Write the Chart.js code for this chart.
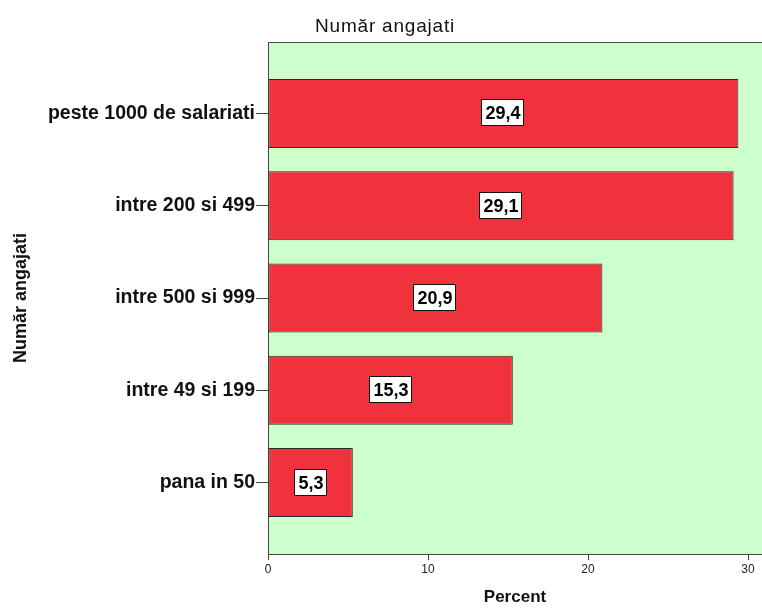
<!DOCTYPE html>
<html>
<head>
<meta charset="utf-8">
<script src="https://cdn.jsdelivr.net/npm/chart.js@4/dist/chart.umd.min.js"></script>
<style>
  html, body { margin: 0; padding: 0; background: #ffffff; }
  #wrap { width: 762px; height: 612px; }
</style>
</head>
<body>
<div id="wrap"><canvas id="c" width="762" height="612"></canvas></div>
<script>
// Employee-count groups, top to bottom
const categories = ['peste 1000 de salariati', 'intre 200 si 499', 'intre 500 si 999', 'intre 49 si 199', 'pana in 50'];
// Share of respondents in each group (%)
const percents = [29.4, 29.1, 20.9, 15.3, 5.3];
// Value-axis tick marks
const xTicks = [0, 10, 20, 30];
const chartTitle = 'Număr angajati';
const xTitle = 'Percent';
const yTitle = 'Număr angajati';

const FONT = '"Liberation Sans", Arial, Helvetica, sans-serif';
Chart.defaults.font.family = FONT;

// Light green plot background plus top frame line and the heading
const frame = {
  id: 'frame',
  beforeDraw(chart) {
    const { ctx, chartArea: a } = chart;
    ctx.save();
    ctx.fillStyle = '#CCFFCC';
    ctx.fillRect(a.left, a.top, a.right - a.left, a.bottom - a.top);
    ctx.restore();
  },
  afterDraw(chart) {
    const { ctx, chartArea: a } = chart;
    ctx.save();
    ctx.strokeStyle = '#4a4a4a';
    ctx.lineWidth = 1;
    ctx.beginPath();
    ctx.moveTo(a.left, a.top + 0.5);
    ctx.lineTo(a.right, a.top + 0.5);
    ctx.stroke();
    ctx.fillStyle = '#111111';
    ctx.font = '19px ' + FONT;
    if ('letterSpacing' in ctx) ctx.letterSpacing = '0.8px';
    ctx.textAlign = 'left';
    ctx.textBaseline = 'middle';
    ctx.fillText(chartTitle, 315, 27);
    ctx.restore();
  }
};

// Boxed value label in the middle of each bar
const valueBoxes = {
  id: 'valueBoxes',
  afterDatasetsDraw(chart) {
    const { ctx } = chart;
    const meta = chart.getDatasetMeta(0);
    ctx.save();
    ctx.font = 'bold 18px ' + FONT;
    ctx.textAlign = 'center';
    ctx.textBaseline = 'middle';
    meta.data.forEach((bar, i) => {
      const txt = percents[i].toFixed(1).replace('.', ',');
      const cx = Math.round((bar.base + bar.x) / 2);
      const cy = Math.round(bar.y);
      const w = Math.round(ctx.measureText(txt).width) + 8;
      const h = 27;
      const x0 = cx - Math.round(w / 2), y0 = cy - Math.round(h / 2);
      ctx.fillStyle = '#ffffff';
      ctx.fillRect(x0, y0, w, h);
      ctx.strokeStyle = '#111111';
      ctx.lineWidth = 1;
      ctx.strokeRect(x0 + 0.5, y0 + 0.5, w - 1, h - 1);
      ctx.fillStyle = '#000000';
      ctx.fillText(txt, cx, cy + 1);
    });
    ctx.restore();
  }
};

new Chart(document.getElementById('c'), {
  type: 'bar',
  data: {
    datasets: [{
      data: percents.map((v, i) => ({ x: v, y: i })),
      backgroundColor: '#EF323C',
      borderColor: '#2a2a2a',
      borderWidth: 1,
      borderSkipped: false,
      categoryPercentage: 1,
      barPercentage: 0.75
    }]
  },
  options: {
    indexAxis: 'y',
    responsive: false,
    animation: false,
    devicePixelRatio: 1,
    layout: { padding: { top: 42, right: 0, bottom: 0, left: 0 } },
    plugins: { legend: { display: false }, tooltip: { enabled: false } },
    scales: {
      x: {
        type: 'linear',
        position: 'bottom',
        min: 0,
        max: 30.875,
        offset: false,
        afterBuildTicks(s) { s.ticks = xTicks.map(v => ({ value: v })); },
        afterFit(s) { s.height = 58; },
        grid: { drawOnChartArea: false, drawTicks: true, tickLength: 6, color: '#444444', offset: false },
        border: { display: true, color: '#444444', width: 1 },
        ticks: { font: { size: 12 }, color: '#222222', padding: 2, maxRotation: 0 },
        title: { display: true, text: xTitle, font: { size: 17, weight: 'bold' }, color: '#111111', padding: { top: 0, bottom: 4 } }
      },
      y: {
        type: 'linear',
        position: 'left',
        reverse: true,
        min: -0.775,
        max: 4.775,
        offset: false,
        afterBuildTicks(s) { s.ticks = categories.map((_, i) => ({ value: i })); },
        afterFit(s) { s.width = 268; },
        grid: { drawOnChartArea: false, drawTicks: true, tickLength: 12, color: '#444444', offset: false },
        border: { display: true, color: '#444444', width: 1 },
        ticks: {
          font: { size: 19.5, weight: 'bold' },
          color: '#111111',
          padding: 1,
          autoSkip: false,
          callback: (v) => categories[v]
        },
        title: { display: true, text: yTitle, font: { size: 18, weight: 'bold' }, color: '#111111', padding: { top: 10, bottom: 0 } }
      }
    }
  },
  plugins: [frame, valueBoxes]
});
</script>
</body>
</html>
